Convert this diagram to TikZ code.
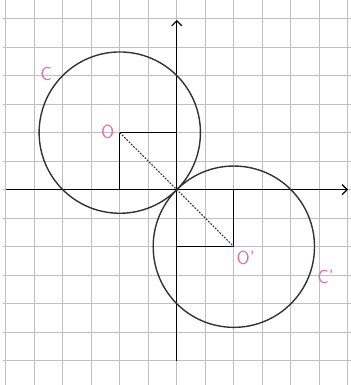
\documentclass[tikz,border=0pt]{standalone}
\usepackage{tikz}
\usetikzlibrary{arrows.meta}
\definecolor{lblpink}{RGB}{226,110,170}

\begin{document}
\begin{tikzpicture}[
    gridline/.style={gray!50, line width=1pt},
    axis/.style={black, line width=1.2pt, -{Straight Barb[length=5pt,width=10pt]}},
    circ/.style={black!80, line width=1.4pt},
    lbl/.style={text=lblpink, font=\fontsize{19}{20}\sffamily, inner sep=0pt}]
  \useasboundingbox (-6.2,-6.85) rectangle (6.1,6.65);
  \fill[white] (-6.2,-6.85) rectangle (6.1,6.65);
  \foreach \x in {-6,...,6} \draw[gridline] (\x,-6.85) -- (\x,6.65);
  \foreach \y in {-6,...,6} \draw[gridline] (-6.1,\y) -- (6.1,\y);
  \coordinate (Ori) at (0,0);
  \coordinate (O) at (-2,2);
  \coordinate (Op) at (2,-2);
  \coordinate (Ox) at (-2,0);
  \coordinate (Oy) at (0,2);
  \coordinate (Opx) at (2,0);
  \coordinate (Opy) at (0,-2);
  \draw[axis] (-6,0) -- (6,0);
  \draw[axis] (0,-6) -- (0,5.95);
  \draw[circ] (O) circle ({2*sqrt(2)});
  \draw[circ] (Op) circle ({2*sqrt(2)});
  \draw[line width=1.2pt] (O) -- (Oy);
  \draw[line width=1.2pt] (O) -- (Ox);
  \draw[line width=1.2pt] (Op) -- (Opx);
  \draw[line width=1.2pt] (Op) -- (Opy);
  \draw[black!80, line width=1.1pt, dash pattern=on 1.8pt off 1.4pt] (O) -- (Op);
  \node[lbl] (lO) at (-2.42,2.04) {O};
  \node[lbl] (lC) at (-4.58,4.05) {C};
  \node[lbl] (lOp) at (2.42,-2.38) {O'};
  \node[lbl] (lCp) at (5.22,-3.05) {C'};
\end{tikzpicture}
\end{document}
